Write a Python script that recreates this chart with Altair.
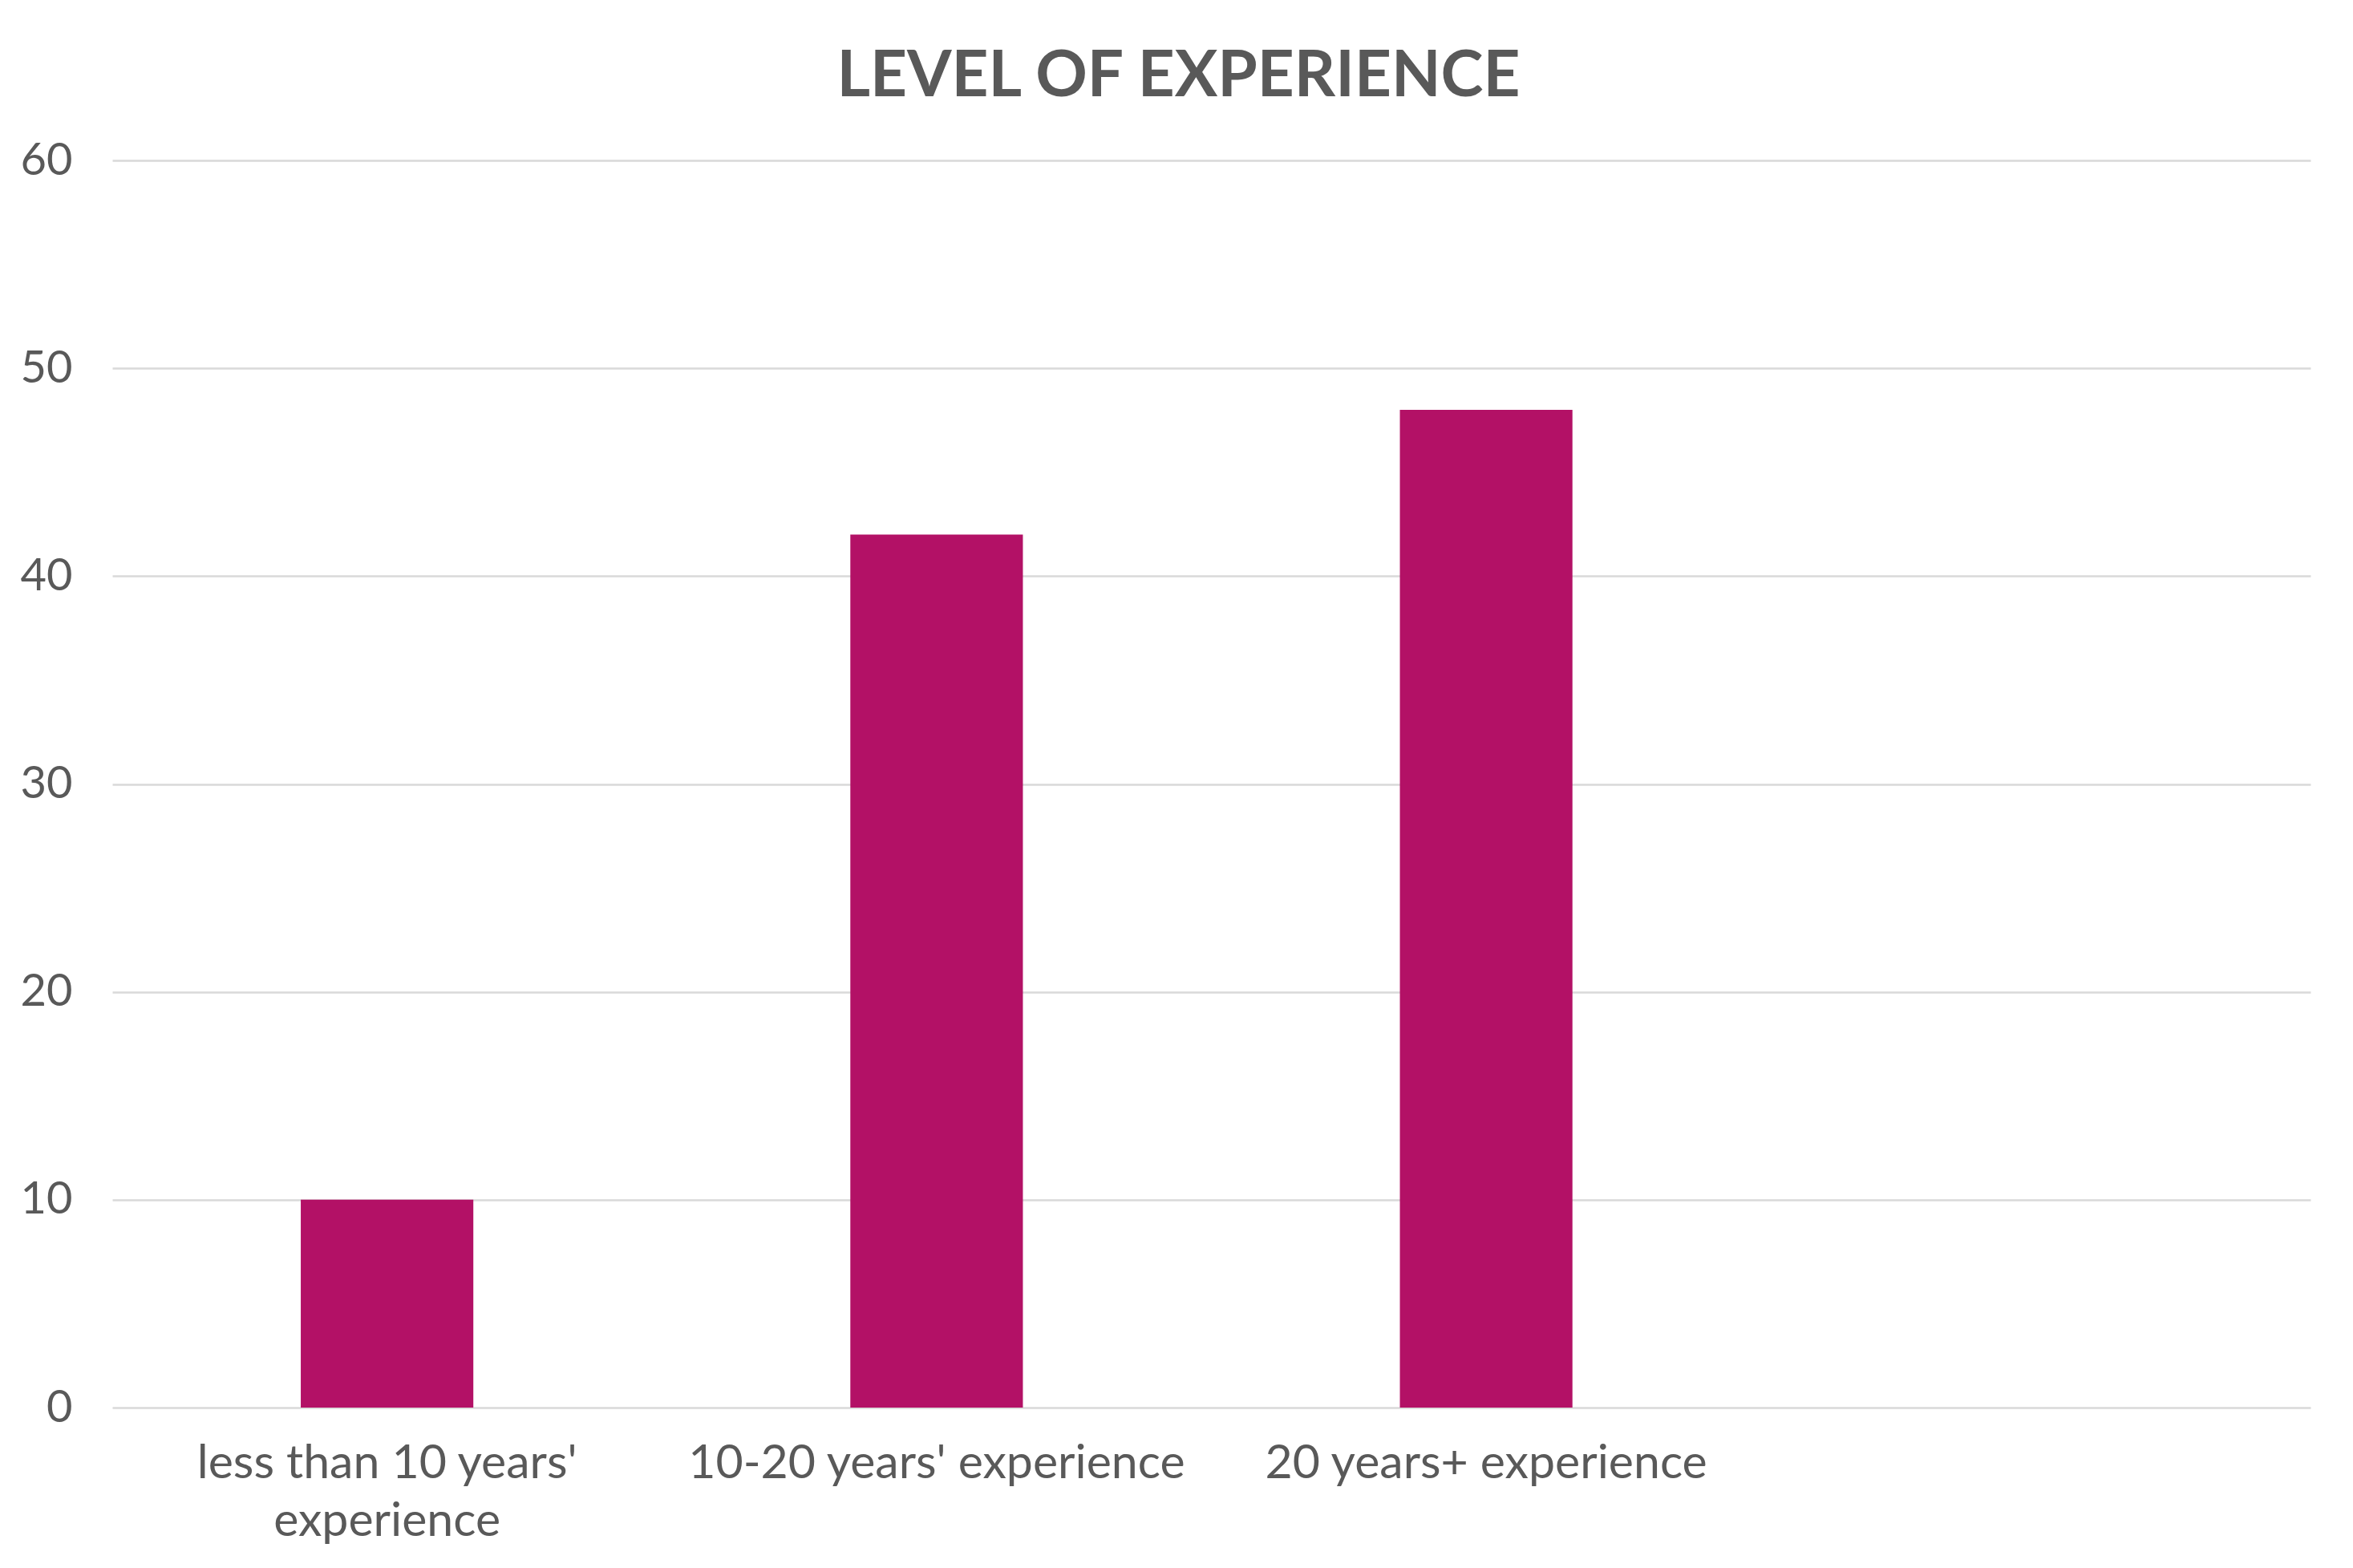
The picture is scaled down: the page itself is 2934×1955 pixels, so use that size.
import altair as alt
import pandas as pd

categories = ["less than 10 years'|experience", "10-20 years' experience", "20 years+ experience", " "]
values = [10, 42, 48, None]
y_ticks = [0, 10, 20, 30, 40, 50, 60]

df = pd.DataFrame({"category": categories[:3], "value": values[:3]})

chart = alt.Chart(df).mark_bar(color="#B31166", width=alt.RelativeBandSize(0.314)).encode(
    x=alt.X("category:N", sort=categories,
            scale=alt.Scale(domain=categories, paddingInner=0, paddingOuter=0),
            axis=alt.Axis(title=None, labelAngle=0, ticks=False, domain=False, grid=False,
                          labelExpr="split(datum.label, '|')", labelLimit=0,
                          labelFont="Lato", labelFontSize=59, labelColor="#595959",
                          labelPadding=40, labelLineHeight=72, labelBaseline="top")),
    y=alt.Y("value:Q",
            scale=alt.Scale(domain=[0, 60], nice=False),
            axis=alt.Axis(title=None, values=y_ticks, ticks=False, domain=False,
                          gridColor="#D9D9D9", gridWidth=2.5,
                          labelFont="Lato", labelFontSize=56, labelColor="#595959",
                          labelPadding=50)),
).properties(
    width=2741,
    height=1555,
    title=alt.TitleParams("LEVEL OF EXPERIENCE", font="Lato", fontSize=80, fontWeight="bold",
                          color="#595959", anchor="middle", frame="group", dx=-41, dy=106,
                          baseline="alphabetic", offset=78),
    padding={"left": 132, "top": 192, "right": 45, "bottom": 180},
    autosize=alt.AutoSizeParams(type="none"),
).configure(background="white").configure_view(stroke=None, strokeWidth=0)

chart.save("out.html", embed_options={"renderer": "svg", "actions": False})
